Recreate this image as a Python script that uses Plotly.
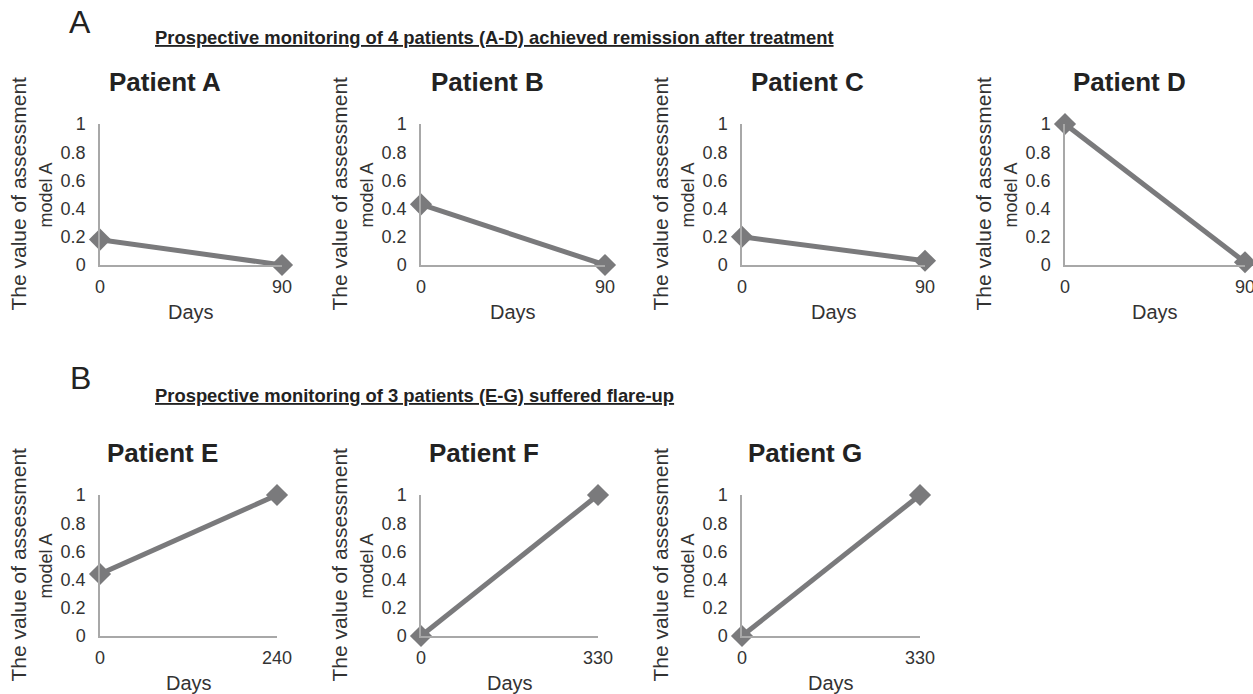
import plotly.graph_objects as go

W, H = 1253, 694

patients = ["Patient A", "Patient B", "Patient C", "Patient D", "Patient E", "Patient F", "Patient G"]
days = [[0, 90], [0, 90], [0, 90], [0, 90], [0, 240], [0, 330], [0, 330]]
values = [[0.18, 0.0], [0.43, 0.0], [0.20, 0.03], [1.0, 0.02], [0.44, 1.0], [0.0, 1.0], [0.0, 1.0]]
y_ticks = [0, 0.2, 0.4, 0.6, 0.8, 1]
y_ticktext = ["0", "0.2", "0.4", "0.6", "0.8", "1"]

headings = ["Prospective monitoring of 4 patients (A-D) achieved remission after treatment",
            "Prospective monitoring of 3 patients (E-G) suffered flare-up"]
panel_letters = ["A", "B"]

# layout in pixels
x_left = [100, 421, 742, 1065, 100, 421, 742]
x_right = [282, 605, 925, 1245, 277, 598, 920]
row_of = [0, 0, 0, 0, 1, 1, 1]
row_top = [124, 495]
row_bot = [265, 636]

FONT = "Liberation Sans, Arial, sans-serif"
LINE_C = "#7a7a7c"
AX_C = "#a8a8a8"

def px(x):
    return x / W

def py(y):
    return 1 - y / H

def ann(text, x, y, size, color="#222", angle=0, xanchor="center"):
    return dict(text=text, x=px(x), y=py(y), xref="paper", yref="paper",
                xanchor=xanchor, yanchor="middle", showarrow=False, textangle=angle,
                font=dict(family=FONT, size=size, color=color))

fig = go.Figure()
annotations = []
for i, name in enumerate(patients):
    k = "" if i == 0 else str(i + 1)
    r = row_of[i]
    fig.add_trace(go.Scatter(
        x=days[i], y=values[i], mode="lines+markers",
        line=dict(color=LINE_C, width=5),
        marker=dict(symbol="diamond", size=17, color=LINE_C),
        cliponaxis=False, showlegend=False, hoverinfo="skip",
        xaxis="x" + k, yaxis="y" + k))
    fig.update_layout(**{
        "xaxis" + k: dict(domain=[px(x_left[i]), px(x_right[i])], anchor="y" + k,
                          range=[0, days[i][1]], tickvals=days[i],
                          ticktext=[str(d) for d in days[i]], automargin=False,
                          showgrid=False, zeroline=False, showline=True,
                          linecolor=AX_C, linewidth=1.5, ticks="", ticklabelstandoff=5,
                          tickfont=dict(family=FONT, size=18, color="#333")),
        "yaxis" + k: dict(domain=[py(row_bot[r]), py(row_top[r])], anchor="x" + k,
                          range=[0, 1], tickvals=y_ticks, ticktext=y_ticktext,
                          automargin=False,
                          showgrid=False, zeroline=False, showline=True,
                          linecolor=AX_C, linewidth=1.5, ticks="", ticklabelstandoff=9,
                          tickfont=dict(family=FONT, size=18, color="#333")),
    })
    cx = (x_left[i] + x_right[i]) / 2
    annotations.append(ann("<b>" + name + "</b>", cx - 26, row_top[r] - 42, 26))
    annotations.append(ann("Days", cx, row_bot[r] + 47, 20, "#333"))
    ymid = (row_top[r] + row_bot[r]) / 2 - 1
    annotations.append(ann("The value of assessment", x_left[i] - 82, ymid, 21, "#333", -90))
    annotations.append(ann("model A", x_left[i] - 55, ymid + 2, 18, "#333", -90))

# Patient D's last tick label sits at the page edge; plotly drops it, so draw it on the axis
annotations.append(dict(text=str(days[3][1]), x=days[3][1], xref="x4", y=py(row_bot[0] + 22),
                        yref="paper", xanchor="center", yanchor="middle", showarrow=False,
                        font=dict(family=FONT, size=18, color="#333")))

heading_y = [38, 395]
letter_y = [22, 378]
for r in range(2):
    annotations.append(ann("<u><b>" + headings[r] + "</b></u>", 153, heading_y[r], 18.4, xanchor="left"))
    annotations.append(ann(panel_letters[r], 80, letter_y[r], 32))

fig.update_layout(width=W, height=H, margin=dict(l=0, r=0, t=0, b=0, autoexpand=False),
                  paper_bgcolor="white", plot_bgcolor="white",
                  annotations=annotations, showlegend=False)

fig.write_html("out.html", config={"displayModeBar": False},
               post_script="document.body.style.margin='0px';")
